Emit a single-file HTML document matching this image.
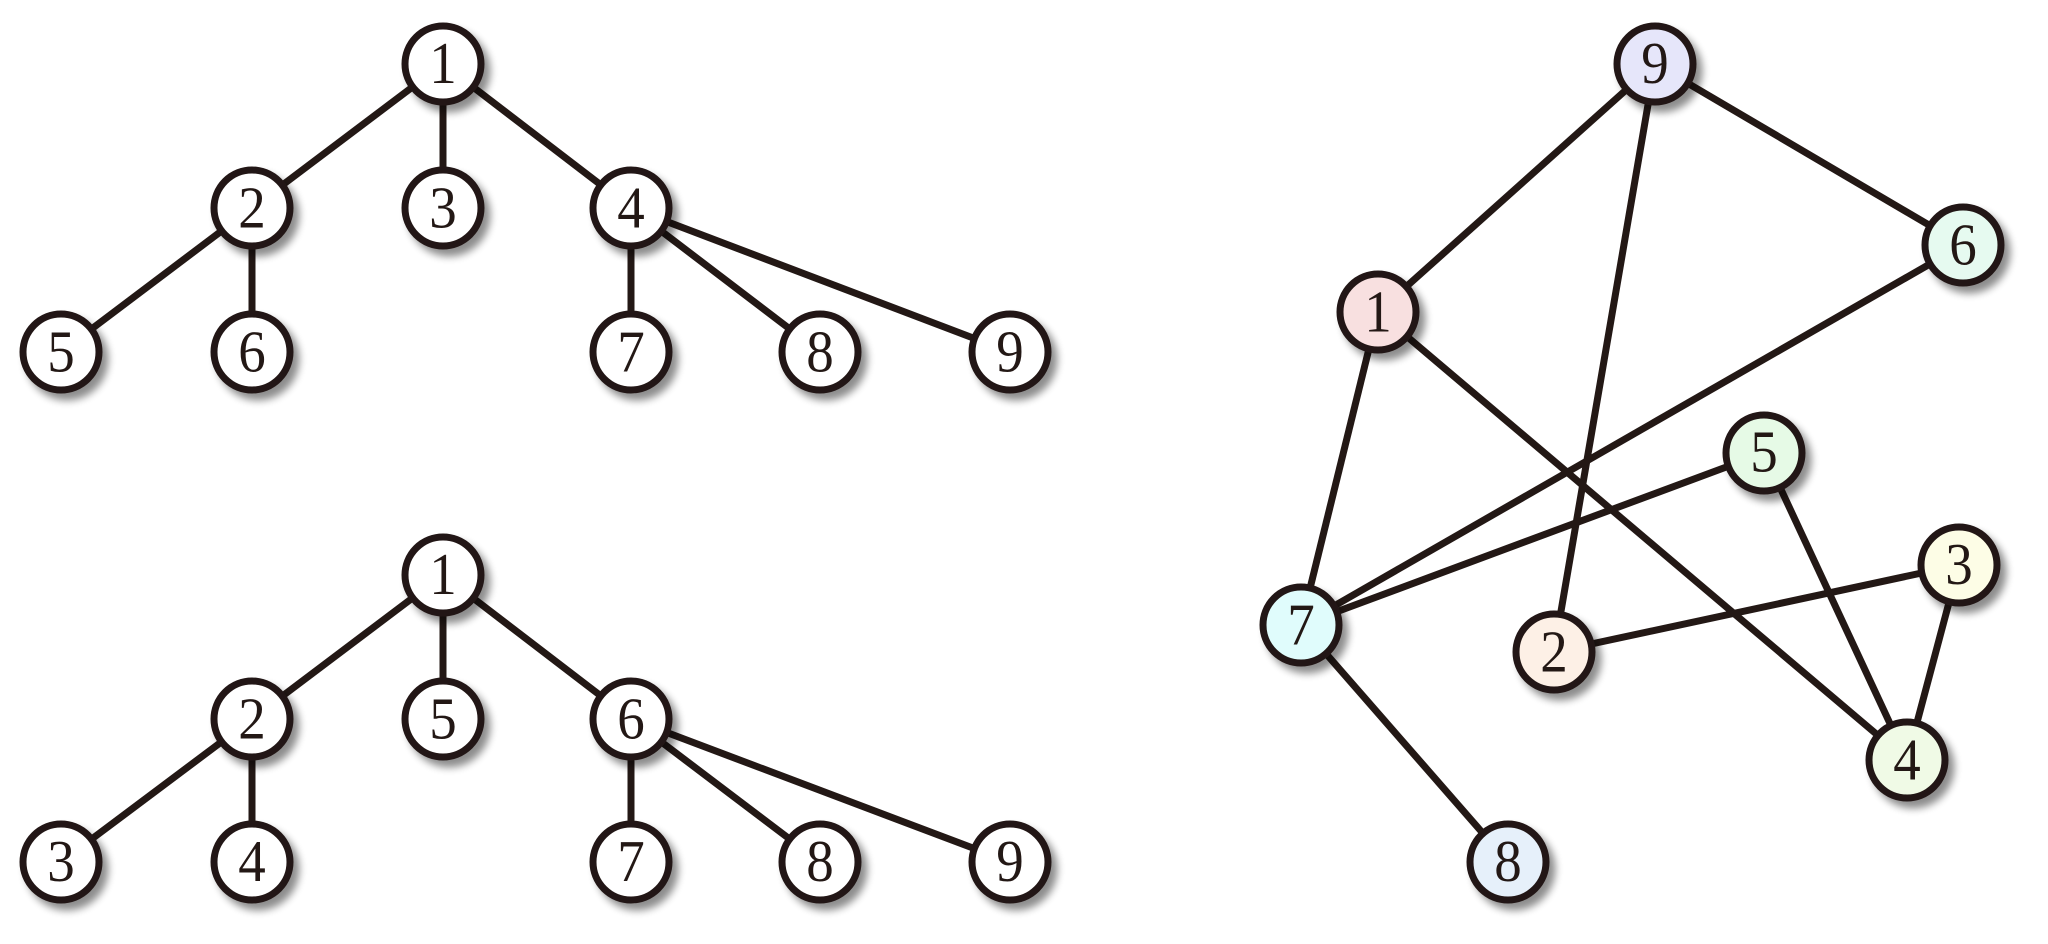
<!DOCTYPE html>
<html><head><meta charset="utf-8"><style>
html,body{margin:0;padding:0;background:#fff;width:2048px;height:944px;overflow:hidden}
text{font-family:"Liberation Serif",serif;font-size:55px;fill:#231815;text-anchor:middle;dominant-baseline:central}
</style></head><body>
<svg width="2048" height="944" viewBox="0 0 2048 944" xmlns="http://www.w3.org/2000/svg">
<defs><filter id="sh" x="-50%" y="-50%" width="200%" height="200%"><feGaussianBlur in="SourceAlpha" stdDeviation="4"/><feOffset dx="6" dy="7"/><feComponentTransfer><feFuncA type="linear" slope="0.45"/></feComponentTransfer><feMerge><feMergeNode/><feMergeNode in="SourceGraphic"/></feMerge></filter></defs>
<g stroke="#231815" stroke-width="7">
<line x1="443" y1="64" x2="252" y2="208"/><line x1="443" y1="64" x2="443" y2="208"/><line x1="443" y1="64" x2="631" y2="208"/>
<line x1="252" y1="208" x2="61" y2="352"/><line x1="252" y1="208" x2="252" y2="352"/>
<line x1="631" y1="208" x2="631" y2="352"/><line x1="631" y1="208" x2="820" y2="352"/><line x1="631" y1="208" x2="1010" y2="352"/>
<line x1="443" y1="575" x2="252" y2="719"/><line x1="443" y1="575" x2="443" y2="719"/><line x1="443" y1="575" x2="631" y2="719"/>
<line x1="252" y1="719" x2="61" y2="862"/><line x1="252" y1="719" x2="252" y2="862"/>
<line x1="631" y1="719" x2="631" y2="862"/><line x1="631" y1="719" x2="820" y2="862"/><line x1="631" y1="719" x2="1010" y2="862"/>
<line x1="1655" y1="64" x2="1378" y2="312"/><line x1="1655" y1="64" x2="1554" y2="652"/><line x1="1655" y1="64" x2="1963" y2="245"/>
<line x1="1378" y1="312" x2="1301" y2="625"/><line x1="1378" y1="312" x2="1907" y2="760"/>
<line x1="1963" y1="245" x2="1301" y2="625"/><line x1="1764" y1="453" x2="1301" y2="625"/>
<line x1="1764" y1="453" x2="1907" y2="760"/><line x1="1959" y1="565" x2="1907" y2="760"/>
<line x1="1959" y1="565" x2="1554" y2="652"/><line x1="1301" y1="625" x2="1508" y2="862"/>
</g>
<g stroke="#231815" stroke-width="7" filter="url(#sh)">
<circle cx="443" cy="64" r="38" fill="#fff"/><circle cx="252" cy="208" r="38" fill="#fff"/><circle cx="443" cy="208" r="38" fill="#fff"/><circle cx="631" cy="208" r="38" fill="#fff"/>
<circle cx="61" cy="352" r="38" fill="#fff"/><circle cx="252" cy="352" r="38" fill="#fff"/><circle cx="631" cy="352" r="38" fill="#fff"/><circle cx="820" cy="352" r="38" fill="#fff"/><circle cx="1010" cy="352" r="38" fill="#fff"/>
<circle cx="443" cy="575" r="38" fill="#fff"/><circle cx="252" cy="719" r="38" fill="#fff"/><circle cx="443" cy="719" r="38" fill="#fff"/><circle cx="631" cy="719" r="38" fill="#fff"/>
<circle cx="61" cy="862" r="38" fill="#fff"/><circle cx="252" cy="862" r="38" fill="#fff"/><circle cx="631" cy="862" r="38" fill="#fff"/><circle cx="820" cy="862" r="38" fill="#fff"/><circle cx="1010" cy="862" r="38" fill="#fff"/>
<circle cx="1655" cy="64" r="38" fill="#e6e6fa"/><circle cx="1963" cy="245" r="38" fill="#e6faf0"/><circle cx="1378" cy="312" r="38" fill="#f8e0e0"/>
<circle cx="1764" cy="453" r="38" fill="#e6fae6"/><circle cx="1959" cy="565" r="38" fill="#fdfde6"/><circle cx="1301" cy="625" r="38" fill="#e0fcfc"/>
<circle cx="1554" cy="652" r="38" fill="#fdf0e6"/><circle cx="1907" cy="760" r="38" fill="#f0fae6"/><circle cx="1508" cy="862" r="38" fill="#e6f0fa"/>
</g>
<g transform="scale(1,1.08)">
<text x="443" y="59">1</text><text x="252" y="193">2</text><text x="443" y="193">3</text><text x="631" y="193">4</text>
<text x="61" y="326">5</text><text x="252" y="326">6</text><text x="631" y="326">7</text><text x="820" y="326">8</text><text x="1010" y="326">9</text>
<text x="443" y="532">1</text><text x="252" y="666">2</text><text x="443" y="666">5</text><text x="631" y="666">6</text>
<text x="61" y="798">3</text><text x="252" y="798">4</text><text x="631" y="798">7</text><text x="820" y="798">8</text><text x="1010" y="798">9</text>
<text x="1655" y="59">9</text><text x="1963" y="227">6</text><text x="1378" y="289">1</text><text x="1764" y="419">5</text><text x="1959" y="523">3</text>
<text x="1301" y="579">7</text><text x="1554" y="604">2</text><text x="1907" y="704">4</text><text x="1508" y="798">8</text>
</g>
</svg>
</body></html>
